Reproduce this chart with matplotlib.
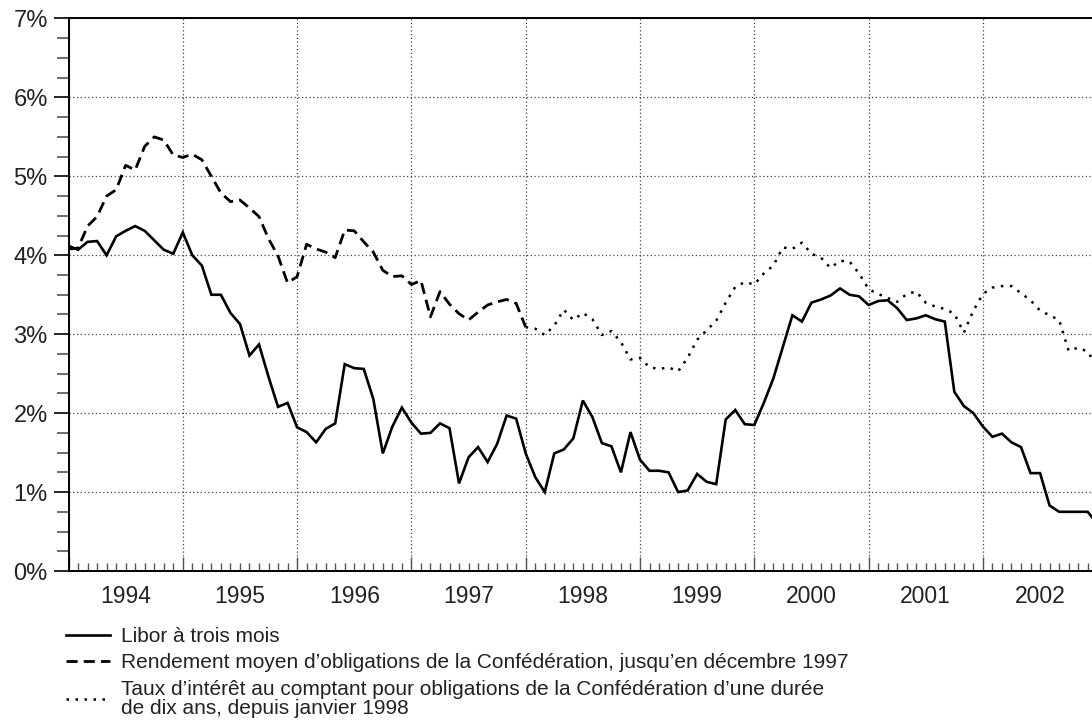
import numpy as np
import matplotlib
matplotlib.use("Agg")
from matplotlib import pyplot as plt
from matplotlib.ticker import FixedLocator, NullFormatter

plt.rcParams['font.family'] = ['Liberation Sans', 'DejaVu Sans']

START_YEAR = 1994
years = list(range(1994, 2003))

# Libor à trois mois, mensuel depuis janvier 1994
libor = [4.12, 4.07, 4.17, 4.18, 4.00, 4.24, 4.31, 4.37, 4.31, 4.19, 4.07, 4.02,
         4.29, 4.00, 3.87, 3.50, 3.50, 3.27, 3.13, 2.73, 2.87, 2.46, 2.08, 2.13,
         1.82, 1.76, 1.63, 1.80, 1.87, 2.62, 2.57, 2.56, 2.18, 1.49, 1.83, 2.07,
         1.88, 1.74, 1.75, 1.87, 1.81, 1.11, 1.44, 1.57, 1.38, 1.61, 1.97, 1.93,
         1.49, 1.19, 1.00, 1.49, 1.54, 1.68, 2.16, 1.95, 1.62, 1.58, 1.25, 1.76,
         1.41, 1.27, 1.27, 1.25, 1.00, 1.02, 1.23, 1.13, 1.10, 1.92, 2.04, 1.86,
         1.85, 2.13, 2.44, 2.84, 3.24, 3.16, 3.40, 3.44, 3.49, 3.58, 3.50, 3.48,
         3.37, 3.42, 3.43, 3.33, 3.18, 3.20, 3.24, 3.19, 3.16, 2.27, 2.09, 2.00,
         1.83, 1.70, 1.74, 1.63, 1.57, 1.24, 1.24, 0.83, 0.75, 0.75, 0.75, 0.75,
         0.60]

# Rendement moyen, janvier 1994 .. janvier 1998
rendement = [4.08, 4.09, 4.37, 4.49, 4.75, 4.83, 5.14, 5.08, 5.38, 5.50, 5.46, 5.27,
             5.24, 5.28, 5.21, 5.00, 4.79, 4.68, 4.70, 4.60, 4.49, 4.21, 3.99, 3.65,
             3.73, 4.14, 4.08, 4.04, 3.97, 4.32, 4.31, 4.17, 4.04, 3.81, 3.73, 3.74,
             3.63, 3.68, 3.22, 3.54, 3.38, 3.26, 3.18, 3.28, 3.37, 3.41, 3.44, 3.39,
             3.09]

# Taux au comptant dix ans, depuis janvier 1998
taux = [3.09, 3.07, 2.99, 3.11, 3.31, 3.18, 3.27, 3.19, 2.99, 3.04, 2.90, 2.68,
        2.70, 2.58, 2.56, 2.58, 2.53, 2.70, 2.93, 3.05, 3.17, 3.40, 3.60, 3.66,
        3.63, 3.77, 3.87, 4.10, 4.08, 4.16, 4.02, 3.97, 3.84, 3.93, 3.92, 3.77,
        3.57, 3.51, 3.46, 3.41, 3.51, 3.54, 3.40, 3.35, 3.32, 3.26, 3.02, 3.30,
        3.51, 3.59, 3.61, 3.61, 3.52, 3.43, 3.30, 3.24, 3.18, 2.79, 2.83, 2.78,
        2.59]

labels = ["Libor à trois mois",
          "Rendement moyen d\u2019obligations de la Confédération, jusqu\u2019en décembre 1997",
          "Taux d\u2019intérêt au comptant pour obligations de la Confédération d\u2019une durée\nde dix ans, depuis janvier 1998"]

x_libor = START_YEAR + np.arange(len(libor)) / 12
x_rend = START_YEAR + np.arange(len(rendement)) / 12
x_taux = 1998 + np.arange(len(taux)) / 12

fig = plt.figure(figsize=(10.92, 7.2), dpi=100)
ax = fig.add_axes([68.5 / 1092, 1 - 571 / 720, 1 - 68.5 / 1092, (571 - 18.5) / 720])

l1, = ax.plot(x_libor, libor, color="black", lw=1.9, solid_joinstyle="miter")
l2, = ax.plot(x_rend, rendement, color="black", lw=2.0, linestyle=(0, (4, 2.2)))
l3, = ax.plot(x_taux, taux, color="black", lw=1.8, linestyle=(0, (1, 2.6)))

ax.set_xlim(1994, 1994 + (1092 - 68.5) / 114.3)
ax.set_ylim(0, 7)

ax.grid(True, which="major", color="#444444", linestyle=(0, (1, 2)), lw=0.9)

ax.xaxis.set_major_locator(FixedLocator(years + [2003]))
ax.xaxis.set_minor_locator(FixedLocator(START_YEAR + np.arange(0, 109) / 12))
ax.xaxis.set_major_formatter(NullFormatter())
ax.tick_params(axis="x", which="major", direction="in", length=10, width=1, color="#555555")
ax.tick_params(axis="x", which="minor", direction="in", length=5.5, width=1, color="#555555")
for y in years:
    ax.text(y + 0.5, -0.047, str(y), transform=ax.get_xaxis_transform(),
            ha="center", va="center", fontsize=16.5, color="#222222")

ax.set_yticks(range(0, 8))
ax.set_yticklabels([f"{v}%" for v in range(0, 8)], fontsize=17, color="#222222")
ax.yaxis.set_minor_locator(FixedLocator(np.arange(0, 7.01, 0.25)))
ax.tick_params(axis="y", which="major", direction="out", length=11, width=1.2, pad=4)
ax.tick_params(axis="y", which="minor", direction="out", length=8.5, width=1.2, color="#555555")

for s in ["top", "bottom", "left"]:
    ax.spines[s].set_linewidth(1.4)
ax.spines["right"].set_visible(False)

leg = fig.legend([l1, l2, l3], labels, loc="upper left", bbox_to_anchor=(66 / 1092, 1 - 627 / 720),
                 frameon=False, fontsize=15, handlelength=2.1, handletextpad=0.55,
                 borderpad=0, borderaxespad=0, labelspacing=0.36, labelcolor="#222222")
for t in leg.get_texts():
    t.set_linespacing(1.0)

fig.savefig("out.png", dpi=100)
